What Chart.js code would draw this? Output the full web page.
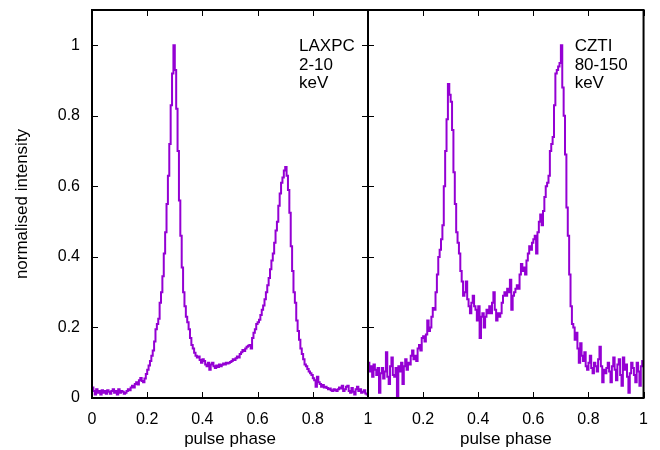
<!DOCTYPE html>
<html>
<head>
<meta charset="utf-8">
<script src="https://cdn.jsdelivr.net/npm/chart.js@4"></script>
<style>
  body { margin: 0; background: #fff; }
  #wrap { position: relative; width: 660px; height: 450px; }
  canvas { position: absolute; top: 0; }
  #left { left: 0; }
  #right { left: 350px; }
</style>
</head>
<body>
<div id="wrap">
  <canvas id="left" width="390" height="450"></canvas>
  <canvas id="right" width="310" height="450"></canvas>
</div>
<script>
// phase bins of 0.005, values are bin averages
const binWidth = 0.005;

const laxpc = [
  0.03, 0.02, 0.01, 0.025, 0.015, 0.02, 0.01, 0.022, 0.015, 0.02,
  0.012, 0.022, 0.018, 0.012, 0.02, 0.025, 0.015, 0.02, 0.01, 0.025,
  0.015, 0.02, 0.018, 0.012, 0.015, 0.02, 0.025, 0.022, 0.03, 0.035,
  0.03, 0.04, 0.045, 0.038, 0.05, 0.057, 0.048, 0.045, 0.055, 0.068,
  0.08, 0.092, 0.105, 0.12, 0.135, 0.16, 0.195, 0.21, 0.225, 0.27,
  0.30, 0.345, 0.41, 0.47, 0.55, 0.63, 0.72, 0.83, 0.92, 1.0,
  0.93, 0.82, 0.70, 0.56, 0.46, 0.37, 0.30, 0.26, 0.23, 0.215,
  0.195, 0.17, 0.15, 0.14, 0.128, 0.12, 0.115, 0.118, 0.108, 0.10,
  0.11, 0.105, 0.095, 0.09, 0.10, 0.08, 0.095, 0.10, 0.09, 0.085,
  0.092, 0.088, 0.095, 0.09, 0.094, 0.098, 0.095, 0.10, 0.098, 0.10,
  0.102, 0.105, 0.11, 0.108, 0.113, 0.118, 0.115, 0.125, 0.13, 0.136,
  0.133, 0.14, 0.145, 0.148, 0.15, 0.14, 0.17, 0.185, 0.195, 0.21,
  0.215, 0.222, 0.235, 0.25, 0.262, 0.28, 0.30, 0.32, 0.34, 0.365,
  0.39, 0.41, 0.44, 0.475, 0.50, 0.545, 0.58, 0.61, 0.625, 0.645,
  0.655, 0.63, 0.59, 0.525, 0.43, 0.36, 0.30, 0.27, 0.22, 0.19,
  0.165, 0.14, 0.125, 0.11, 0.095, 0.09, 0.082, 0.075, 0.07, 0.065,
  0.056, 0.05, 0.032, 0.06, 0.045, 0.04, 0.032, 0.037, 0.03, 0.032,
  0.028, 0.025, 0.027, 0.022, 0.02, 0.025, 0.023, 0.02, 0.025, 0.03,
  0.027, 0.035, 0.02, 0.025, 0.032, 0.035, 0.02, 0.015, 0.028, 0.018,
  0.01, 0.025, 0.032, 0.02, 0.025, 0.015, 0.018, 0.022, 0.013, 0.01
];

const czti = [
  0.10, 0.075, 0.09, 0.06, 0.095, 0.08, 0.065, 0.085, 0.015, 0.07,
  0.085, 0.055, 0.075, 0.13, 0.06, 0.04, 0.09, 0.115, 0.065, 0.06,
  0.085, 0.005, 0.09, 0.075, 0.10, 0.04, 0.09, 0.11, 0.08, 0.10,
  0.095, 0.12, 0.135, 0.11, 0.12, 0.105, 0.14, 0.15, 0.135, 0.17,
  0.175, 0.16, 0.18, 0.22, 0.19, 0.20, 0.23, 0.255, 0.25, 0.30,
  0.35, 0.40, 0.42, 0.45, 0.49, 0.60, 0.70, 0.79, 0.89, 0.86,
  0.84, 0.76, 0.64, 0.55, 0.47, 0.44, 0.41, 0.36, 0.33, 0.29,
  0.30, 0.33, 0.28, 0.26, 0.24, 0.27, 0.29, 0.26, 0.25, 0.22,
  0.26, 0.17, 0.23, 0.24, 0.20, 0.23, 0.25, 0.24, 0.26, 0.24,
  0.27, 0.30, 0.25, 0.22, 0.24, 0.23, 0.24, 0.27, 0.29, 0.30,
  0.29, 0.31, 0.30, 0.335, 0.25, 0.29, 0.30, 0.31, 0.32, 0.31,
  0.35, 0.38, 0.36, 0.37, 0.35, 0.39, 0.41, 0.43, 0.42, 0.44,
  0.45, 0.46, 0.41, 0.47, 0.50, 0.52, 0.49, 0.53, 0.57, 0.60,
  0.61, 0.63, 0.70, 0.72, 0.74, 0.83, 0.92, 0.93, 0.94, 0.95,
  1.0, 0.88, 0.80, 0.69, 0.54, 0.46, 0.35, 0.26, 0.21, 0.20,
  0.165, 0.185, 0.14, 0.10, 0.155, 0.12, 0.105, 0.13, 0.09, 0.08,
  0.10, 0.12, 0.085, 0.07, 0.10, 0.09, 0.075, 0.11, 0.145, 0.09,
  0.045, 0.08, 0.07, 0.085, 0.10, 0.075, 0.045, 0.09, 0.115, 0.08,
  0.05, 0.095, 0.11, 0.065, 0.035, 0.115, 0.08, 0.095, 0.06, 0.015,
  0.07, 0.10, 0.085, 0.065, 0.045, 0.10, 0.075, 0.035, 0.09, 0.105
];

const xTicks = [0, 0.2, 0.4, 0.6, 0.8, 1];
const yTicks = [0, 0.2, 0.4, 0.6, 0.8, 1];
const laxpcLabel = ["LAXPC", "2-10", "keV"];
const cztiLabel = ["CZTI", "80-150", "keV"];

const lineColor = "#9400d3";
const fontFamily = '"Liberation Sans", Arial, Helvetica, sans-serif';

function toPoints(values) {
  return values.map((v, i) => ({ x: (i + 0.5) * binWidth, y: v }));
}

// gnuplot-like frame: border, inward ticks, panel label
const framePlugin = {
  id: "frame",
  afterDraw(chart, args, opts) {
    const { ctx, chartArea: a, scales } = chart;
    const tl = 6;
    ctx.save();
    ctx.strokeStyle = "#000";
    ctx.lineWidth = 1;
    ctx.beginPath();
    scales.x.ticks.forEach(t => {
      const px = Math.round(scales.x.getPixelForValue(t.value)) + 0.5;
      ctx.moveTo(px, a.bottom); ctx.lineTo(px, a.bottom - tl);
      ctx.moveTo(px, a.top); ctx.lineTo(px, a.top + tl);
    });
    scales.y.ticks.forEach(t => {
      const py = Math.round(scales.y.getPixelForValue(t.value)) + 0.5;
      ctx.moveTo(a.left, py); ctx.lineTo(a.left + tl, py);
      if (opts.mirror) { ctx.moveTo(a.right, py); ctx.lineTo(a.right - tl, py); }
    });
    ctx.stroke();
    ctx.lineWidth = 2;
    ctx.strokeRect(a.left, a.top, a.right - a.left, a.bottom - a.top);

    ctx.fillStyle = "#000";
    ctx.font = "17px " + fontFamily;
    ctx.textAlign = "left";
    ctx.textBaseline = "alphabetic";
    const lx = scales.x.getPixelForValue(opts.labelX);
    const ly = scales.y.getPixelForValue(opts.labelY);
    opts.lines.forEach((s, k) => ctx.fillText(s, lx, ly + k * 18.5));
    ctx.restore();
  }
};

function makeChart(id, values, label, isLeft) {
  const ctx = document.getElementById(id).getContext("2d");
  return new Chart(ctx, {
    type: "line",
    data: {
      datasets: [{
        data: toPoints(values),
        borderColor: lineColor,
        borderWidth: 2,
        pointRadius: 0,
        stepped: "middle",
        fill: false
      }]
    },
    options: {
      responsive: false,
      animation: false,
      layout: { padding: isLeft ? { left: 0, right: 22, top: 10, bottom: 0 } : { left: 18, right: 15, top: 10, bottom: 0 } },
      plugins: {
        legend: { display: false },
        tooltip: { enabled: false },
        frame: { lines: label, labelX: 0.75, labelY: 0.983, mirror: isLeft }
      },
      scales: {
        x: {
          type: "linear",
          min: 0,
          max: 1,
          afterBuildTicks: s => { s.ticks = xTicks.map(v => ({ value: v })); },
          afterFit: s => { s.height = 52; },
          grid: { display: false, drawTicks: false },
          border: { display: false },
          ticks: {
            color: "#000",
            padding: 12,
            maxRotation: 0,
            font: { family: fontFamily, size: 16 },
            callback: v => (!isLeft && v === 0) ? "" : String(v)
          },
          title: {
            display: true,
            text: "pulse phase",
            color: "#000",
            font: { family: fontFamily, size: 17 },
            padding: { top: 0, bottom: 0 }
          }
        },
        y: {
          min: 0,
          max: 1.1,
          afterBuildTicks: s => { s.ticks = yTicks.map(v => ({ value: v })); },
          afterFit: s => {
            s.width = isLeft ? 92 : 0;
            s.paddingTop = 0;
            s.paddingBottom = 0;
          },
          grid: { display: false, drawTicks: false },
          border: { display: false },
          ticks: {
            display: isLeft,
            color: "#000",
            padding: 12,
            font: { family: fontFamily, size: 16 },
            callback: v => String(v)
          },
          title: {
            display: isLeft,
            text: "normalised intensity",
            color: "#000",
            font: { family: fontFamily, size: 17 },
            padding: { top: 12, bottom: 0 }
          }
        }
      }
    },
    plugins: [framePlugin]
  });
}

makeChart("left", laxpc, laxpcLabel, true);
makeChart("right", czti, cztiLabel, false);
</script>
</body>
</html>
